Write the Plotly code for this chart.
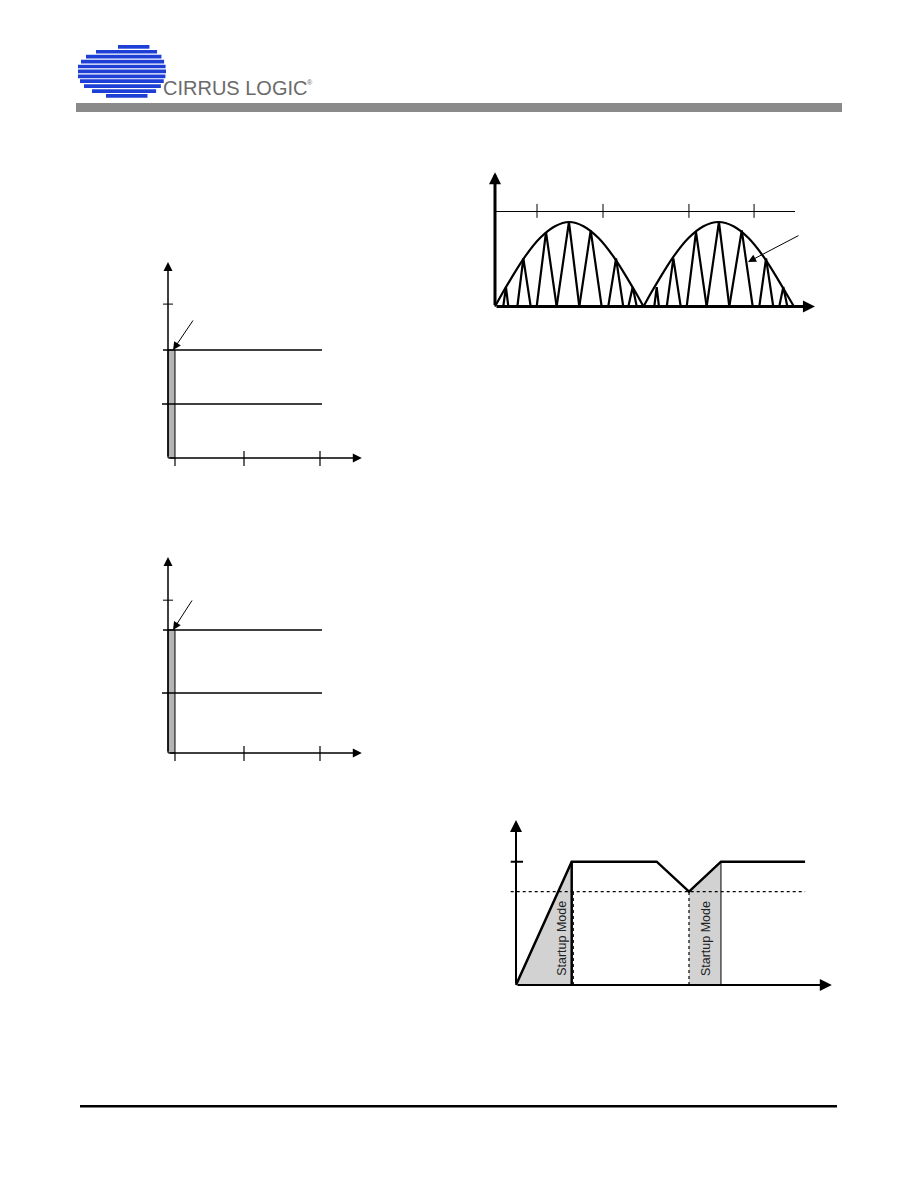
import math
import plotly.graph_objects as go

W, H = 918, 1188

# ------------------------------------------------------------------ data
# Diagram A (top right): rectified line envelope + triangular current pulses
# time in half line-cycles, amplitude normalised to the envelope peak
env1_t = [0.0, 0.05, 0.10, 0.20, 0.30, 0.40, 0.495, 0.59, 0.69, 0.79, 0.89, 0.94, 0.99]
env1_v = [0.0, 0.16, 0.31, 0.59, 0.81, 0.95, 1.0, 0.95, 0.81, 0.59, 0.31, 0.16, 0.0]
env2_t = [0.99, 1.04, 1.09, 1.19, 1.29, 1.39, 1.49, 1.59, 1.69, 1.79, 1.89, 1.94, 1.993]
env2_v = [0.0, 0.16, 0.31, 0.59, 0.81, 0.95, 1.0, 0.95, 0.81, 0.59, 0.31, 0.16, 0.0]

pulse_start = [0.055, 0.149, 0.278, 0.411, 0.562, 0.755, 0.889,
               1.062, 1.145, 1.278, 1.411, 1.562, 1.762, 1.895]
pulse_peak_t = [0.073, 0.189, 0.340, 0.493, 0.638, 0.807, 0.918,
                1.078, 1.189, 1.340, 1.493, 1.645, 1.807, 1.922]
pulse_end = [0.089, 0.238, 0.411, 0.562, 0.711, 0.855, 0.945,
             1.093, 1.238, 1.411, 1.562, 1.718, 1.855, 1.949]
pulse_peak_v = [0.23, 0.57, 0.88, 1.0, 0.90, 0.57, 0.23,
                0.23, 0.57, 0.88, 1.0, 0.90, 0.57, 0.23]
ref_level = 1.124
ref_ticks = [0.28, 0.72, 1.293, 1.727]

# Diagrams B and C (left): level lines, start-up bar and time ticks
time_ticks = [0.092, 1.0, 2.0]
b_levels = [1.0, 2.0]
b_top_tick = 2.85
c_levels = [1.11, 2.28]
c_top_tick = 2.83
bar_width = 0.092

# Diagram D (bottom right): supply voltage during start-up
vdd_t = [0.0, 1.0, 2.526, 3.106, 3.68, 5.19]
vdd_v = [0.0, 1.0, 1.0, 0.757, 1.0, 1.0]
uvlo_level = 0.757
startup_label = "Startup Mode"

# ------------------------------------------------------------------ figure
fig = go.Figure()


def panel(n, ox, oy, sx, sy, xr, yr):
    """Place local axes n so that local (0,0) lands at pixel (ox, oy)."""
    k = "" if n == 1 else str(n)
    xd = [(ox + xr[0] * sx) / W, (ox + xr[1] * sx) / W]
    yd = [1 - (oy - yr[0] * sy) / H, 1 - (oy - yr[1] * sy) / H]
    fig.update_layout({
        f"xaxis{k}": dict(domain=xd, range=xr, visible=False, fixedrange=True,
                          anchor=f"y{k}"),
        f"yaxis{k}": dict(domain=yd, range=yr, visible=False, fixedrange=True,
                          anchor=f"x{k}"),
    })
    return f"x{k}", f"y{k}"


def line(ax, x, y, width=2, dash="solid", color="black", shape="linear",
         fill=None, fillcolor=None):
    fig.add_trace(go.Scatter(
        x=x, y=y, xaxis=ax[0], yaxis=ax[1], mode="lines",
        line=dict(color=color, width=width, dash=dash, shape=shape),
        fill=fill, fillcolor=fillcolor,
        hoverinfo="skip", showlegend=False))


annotations = []


def arrow(ax, tail, tip, width=2, size=1.0, head=2):
    annotations.append(dict(
        x=tip[0], y=tip[1], ax=tail[0], ay=tail[1],
        xref=ax[0], yref=ax[1], axref=ax[0], ayref=ax[1],
        text="", showarrow=True, arrowhead=head, arrowwidth=width,
        arrowsize=size, arrowcolor="black", standoff=0, startstandoff=0))


# ---------------- Diagram A
A = panel(1, 495, 306.5, 150, 84.5, [-0.1, 2.25], [-0.2, 1.7])
line(A, env1_t, env1_v, width=2.2, shape="spline")
line(A, env2_t, env2_v, width=2.2, shape="spline")
px, py = [], []
for s, pt, pv, e in zip(pulse_start, pulse_peak_t, pulse_peak_v, pulse_end):
    px += [s, pt, e, None]
    py += [0, pv, 0, None]
line(A, px, py, width=2.2)
line(A, [0, 2.0], [ref_level, ref_level], width=1)
for t in ref_ticks:
    line(A, [t, t], [ref_level - 0.075, ref_level + 0.09], width=1)
arrow(A, (0, 0), (0, 1.59), width=3, size=0.8)
arrow(A, (0, 0), (2.133, 0), width=3, size=0.8)
arrow(A, (2.033, 0.848), (1.687, 0.527), width=1, size=1.6)

# ---------------- Diagrams B and C
for n, oy, levels, top_tick, pointer in [
        (2, 458, b_levels, b_top_tick, (0.342, 2.574)),
        (3, 753, c_levels, c_top_tick, (0.329, 2.852))]:
    P = panel(n, 168, oy, 76, 54, [-0.3, 2.7], [-0.4, 3.8])
    top = levels[-1]
    line(P, [0, bar_width, bar_width, 0, 0], [0, 0, top, top, 0],
         width=1, fill="toself", fillcolor="#b4b4b4")
    line(P, [-0.079, 2.026], [levels[0], levels[0]], width=1.5)
    line(P, [-0.066, 2.026], [levels[1], levels[1]], width=1.5)
    line(P, [-0.066, 0.066], [top_tick, top_tick], width=1)
    for i, t in enumerate(time_ticks):
        line(P, [t, t], [0.0 if i == 0 else 0.13, -0.148], width=1.2)
    arrow(P, (0, 0), (0, 3.63), width=1.5, size=1.2)
    arrow(P, (0, 0), (2.55, 0), width=1.5, size=1.2)
    arrow(P, pointer, (0.066, top), width=1, size=1.6)

# ---------------- Diagram D
D = panel(4, 516, 985, 55.7, 123.3, [-0.3, 5.9], [-0.2, 1.45])
line(D, [vdd_t[0], vdd_t[1], vdd_t[1]], [vdd_v[0], vdd_v[1], 0],
     width=0, fill="toself", fillcolor="#d2d2d2")
line(D, [vdd_t[3], vdd_t[3], vdd_t[4], vdd_t[4]],
     [0, vdd_v[3], vdd_v[4], 0],
     width=0, fill="toself", fillcolor="#d2d2d2")
line(D, [-0.095, vdd_t[-1]], [uvlo_level, uvlo_level], width=1.2, dash="dot")
line(D, [-0.095, 0.126], [1.0, 1.0], width=2)
line(D, [vdd_t[1] + 0.03, vdd_t[1] + 0.03], [0, uvlo_level], width=1,
     dash="dot")
line(D, [vdd_t[1], vdd_t[1]], [0, 1.0], width=2.5)
line(D, [vdd_t[3], vdd_t[3]], [0, uvlo_level], width=1.2, dash="dot")
line(D, [vdd_t[4], vdd_t[4]], [0, 1.0], width=1)
line(D, vdd_t, vdd_v, width=2.5)
arrow(D, (0, 0), (0, 1.338), width=2, size=1.2)
arrow(D, (0, 0), (5.67, 0), width=2, size=1.2)
for xc in [0.82, 3.41]:
    annotations.append(dict(
        x=xc, y=0.38, xref=D[0], yref=D[1], text=startup_label,
        showarrow=False, textangle=-90, xanchor="center", yanchor="middle",
        font=dict(family="Liberation Sans, Arial, sans-serif", size=12.5,
                  color="#222222")))

# ---------------- page decoration (header logo, rule, footer rule)
shapes = []


def rect_px(x0, y0, x1, y1, color):
    shapes.append(dict(type="rect", xref="paper", yref="paper",
                       x0=x0 / W, x1=x1 / W, y0=1 - y1 / H, y1=1 - y0 / H,
                       fillcolor=color, line=dict(width=0), layer="above"))


# striped ellipse logo
cx, cy, rx, ry = 136, 71, 30, 27
stripe_left = [118, 96, 86, 81, 78, 78, 78, 80, 84, 92, 106]
n_str = len(stripe_left)
pitch = 54 / n_str
for i, left in enumerate(stripe_left):
    y0 = 45 + i * pitch
    y1 = y0 + pitch - 1.2
    ym = (y0 + y1) / 2
    dy = max(-1.0, min(1.0, (ym - cy) / ry))
    right = cx + rx * math.sqrt(1 - dy * dy)
    rect_px(left, y0, right, y1, "#1d3fd6")

rect_px(76, 103, 842, 112, "#8a8a8a")
rect_px(80, 1105, 837, 1107.5, "#000000")

annotations.append(dict(
    x=161 / W, y=1 - 88 / H, xref="paper", yref="paper", text="CIRRUS LOGIC",
    showarrow=False, xanchor="left", yanchor="middle",
    font=dict(family="Liberation Sans, Arial, sans-serif",
              size=20, color="#6b6b6b")))
annotations.append(dict(
    x=305 / W, y=1 - 83 / H, xref="paper", yref="paper", text="®",
    showarrow=False, xanchor="left", yanchor="middle",
    font=dict(family="Liberation Sans, Arial, sans-serif", size=7,
              color="#6b6b6b")))

fig.update_layout(
    width=W, height=H, margin=dict(l=0, r=0, t=0, b=0),
    paper_bgcolor="white", plot_bgcolor="rgba(0,0,0,0)",
    shapes=shapes, annotations=annotations, showlegend=False,
)

fig.write_html("out.html", config={"displayModeBar": False},
               post_script="document.body.style.margin='0';"
                           "document.body.style.padding='0';")
